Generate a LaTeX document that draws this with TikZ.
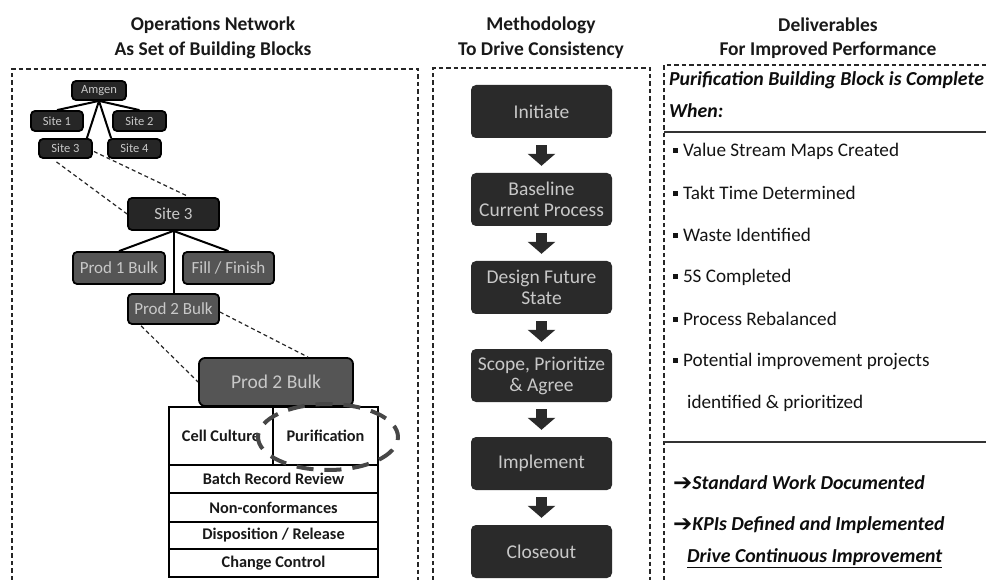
\documentclass[tikz,border=0pt]{standalone}
\usepackage{fontspec}
\setmainfont{Carlito}
\newfontfamily\djv{DejaVu Sans}
\usetikzlibrary{arrows.meta,shapes.geometric,calc}
\definecolor{boxdark}{HTML}{262626}
\definecolor{boxgray}{HTML}{555555}
\definecolor{stepfill}{HTML}{2A2A2A}
\definecolor{lighttext}{HTML}{C8C8C8}
\newcommand{\sqbullet}{\raisebox{3.5pt}{\rule{4.8pt}{4.8pt}}\hspace{5pt}}
\newcommand{\bigarrow}{{\djv\bfseries\fontsize{23}{24}\selectfont\raisebox{-1pt}{➔}}}
\begin{document}
\begin{tikzpicture}[x=1pt,y=-1pt,
  panel/.style={draw=black!85, line width=1.3pt, dash pattern=on 4.5pt off 3pt},
  divider/.style={draw=black!80, line width=1.3pt},
  ttl/.style={font=\fontsize{19.5}{23}\selectfont\bfseries, text=black!90, inner sep=0pt},
  dkbox/.style={draw=black, line width=1.8pt, rounded corners=4pt, fill=boxdark, text=lighttext, inner sep=0pt},
  gybox/.style={draw=black, line width=1.8pt, rounded corners=4pt, fill=boxgray, text=lighttext, inner sep=0pt},
  small/.style={font=\fontsize{12.5}{14}\selectfont},
  mid/.style={font=\fontsize{17}{19}\selectfont},
  tree/.style={draw=black, line width=2pt},
  zoomline/.style={draw=black!85, line width=1.2pt, dash pattern=on 4pt off 3pt},
  cell/.style={draw=black, line width=1.1pt, fill=white, inner sep=0pt, font=\fontsize{16.3}{19}\selectfont\bfseries, text=black!90},
  stepbox/.style={fill=stepfill, rounded corners=5pt, text=lighttext, align=center, minimum width=141pt, minimum height=53pt, inner sep=0pt, font=\fontsize{19.5}{21}\selectfont},
  downarrow/.style={draw=stepfill, line width=11pt, -{Triangle[length=12pt,width=27pt]}},
  item/.style={anchor=west, inner sep=0pt, font=\fontsize{19.2}{22}\selectfont, text=black!92},
  emph/.style={anchor=west, inner sep=0pt, font=\fontsize{19.8}{22}\selectfont\bfseries\itshape, text=black!95}
]
\useasboundingbox (0,0) rectangle (986,580);

% titles
\node[ttl] (t1a) at (213,25) {Operations Network};
\node[ttl] (t1b) at (213,50) {As Set of Building Blocks};
\node[ttl] (t2a) at (541,25) {Methodology};
\node[ttl] (t2b) at (541,50) {To Drive Consistency};
\node[ttl] (t3a) at (828,25) {Deliverables};
\node[ttl] (t3b) at (828,50) {For Improved Performance};

% panels
\draw[panel] (12,580) -- (12,69) -- (418,69) -- (418,580);
\draw[panel] (433,580) -- (433,68) -- (650,68) -- (650,580);
\draw[panel] (664,580) -- (664,65) -- (986,65);
\draw[divider] (664,132) -- (986,132);
\draw[divider] (664,442) -- (986,442);

% left: network tree
\node[dkbox, small, minimum width=54pt, minimum height=19pt] (amgen) at (99,90.5) {Amgen};
\node[dkbox, small, minimum width=52pt, minimum height=20pt] (site1) at (57,121) {Site 1};
\node[dkbox, small, minimum width=53pt, minimum height=20pt] (site2) at (139.5,121) {Site 2};
\node[dkbox, small, minimum width=53pt, minimum height=19pt] (site3s) at (65.5,148.5) {Site 3};
\node[dkbox, small, minimum width=53pt, minimum height=19pt] (site4) at (134.5,148.5) {Site 4};
\draw[tree] (amgen.south) -- (site1.north);
\draw[tree] (amgen.south) -- (site2.north);
\draw[tree] (amgen.south) -- ($(site3s.north east)+(-6,0)$);
\draw[tree] (amgen.south) -- ($(site4.north west)+(4,0)$);

\node[dkbox, mid, minimum width=91pt, minimum height=32pt] (site3) at (173.5,214) {Site 3};
\draw[zoomline] ($(site3s.south)+(-9,3)$) -- (site3.west);
\draw[zoomline] ($(site3s.east)+(1,3)$) -- ($(site3.north)+(14,-1)$);

\node[gybox, mid, minimum width=92pt, minimum height=32pt] (prod1) at (119,268) {Prod 1 Bulk};
\node[gybox, mid, minimum width=91pt, minimum height=32pt] (fill) at (228.5,268) {Fill / Finish};
\node[gybox, mid, minimum width=91pt, minimum height=30pt] (prod2s) at (173.5,309) {Prod 2 Bulk};
\draw[tree] (site3.south) -- (prod1.north);
\draw[tree] (site3.south) -- (fill.north);
\draw[tree] (site3.south) -- (prod2s.north);

\node[gybox, font=\fontsize{19.5}{22}\selectfont, minimum width=154pt, minimum height=48pt, rounded corners=6pt] (prod2) at (276,382) {Prod 2 Bulk};
\draw[zoomline] ($(prod2s.south west)+(14,1)$) -- ($(prod2.west)+(0,0)$);
\draw[zoomline] ($(prod2s.east)+(0,3)$) -- ($(prod2.north)+(32,0)$);

% table
\node[cell, minimum width=104pt, minimum height=58pt] (cellc) at (221,436) {Cell Culture};
\node[cell, minimum width=105pt, minimum height=58pt] (purif) at (325.5,436) {Purification};
\node[cell, minimum width=209pt, minimum height=28pt] (batch) at (273.5,479) {Batch Record Review};
\node[cell, minimum width=209pt, minimum height=29pt] (nonc) at (273.5,507.5) {Non-conformances};
\node[cell, minimum width=209pt, minimum height=27pt] (disp) at (273.5,535.5) {Disposition / Release};
\node[cell, minimum width=209pt, minimum height=28pt] (chg) at (273.5,563) {Change Control};
\node[ellipse, draw=black!72, line width=4pt, dash pattern=on 17pt off 11pt, dash phase=5pt, minimum width=140pt, minimum height=66pt, inner sep=0pt] (focus) at (328,437) {};

% middle: methodology steps
\node[stepbox] (s1) at (541.5,111.5) {Initiate};
\node[stepbox] (s2) at (541.5,199.5) {Baseline\\Current Process};
\node[stepbox] (s3) at (541.5,287.5) {Design Future\\State};
\node[stepbox] (s4) at (541.5,375.5) {Scope, Prioritize\\\& Agree};
\node[stepbox] (s5) at (541.5,463.5) {Implement};
\node[stepbox] (s6) at (541.5,551.5) {Closeout};
\draw[downarrow] ($(s1.south)+(0,7)$) -- ($(s2.north)+(0,-7)$);
\draw[downarrow] ($(s2.south)+(0,7)$) -- ($(s3.north)+(0,-7)$);
\draw[downarrow] ($(s3.south)+(0,7)$) -- ($(s4.north)+(0,-7)$);
\draw[downarrow] ($(s4.south)+(0,7)$) -- ($(s5.north)+(0,-7)$);
\draw[downarrow] ($(s5.south)+(0,7)$) -- ($(s6.north)+(0,-7)$);

% right: deliverables
\node[emph] (h1) at (669,80) {Purification Building Block is Complete};
\node[emph] (h2) at (669,111) {When:};
\node[item] (d1) at (673,151) {\sqbullet Value Stream Maps Created};
\node[item] (d2) at (673,193) {\sqbullet Takt Time Determined};
\node[item] (d3) at (673,235) {\sqbullet Waste Identified};
\node[item] (d4) at (673,277) {\sqbullet 5S Completed};
\node[item] (d5) at (673,319) {\sqbullet Process Rebalanced};
\node[item] (d6) at (673,361) {\sqbullet Potential improvement projects};
\node[item] (d7) at (687,403) {identified \& prioritized};
\node[emph] (e1) at (673,483) {\bigarrow Standard Work Documented};
\node[emph] (e2) at (673,525) {\bigarrow KPIs Defined and Implemented};
\node[emph] (e3) at (687,558) {\underline{Drive Continuous Improvement}};
\end{tikzpicture}
\end{document}
